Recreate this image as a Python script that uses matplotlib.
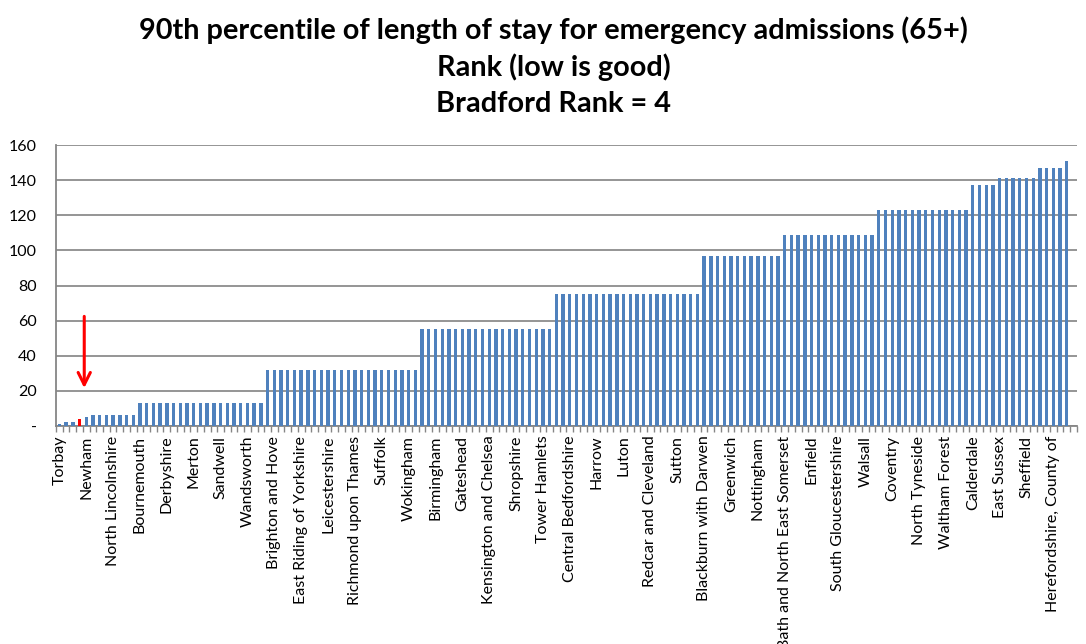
import numpy as np
import matplotlib
matplotlib.use("Agg")
import matplotlib.pyplot as plt
from matplotlib.ticker import FixedLocator

# Rank groups (competition ranking, ties share a rank) and how many authorities in each
group_rank = [1, 2, 4, 5, 6, 13, 32, 55, 75, 97, 109, 123, 137, 141, 147, 151]
group_size = [1, 2, 1, 1, 7, 19, 23, 20, 22, 12, 14, 14, 4, 6, 4, 1]

# Labels shown on the axis (every 4th authority, starting with the first)
shown_labels = ['Torbay', 'Newham', 'North Lincolnshire', 'Bournemouth', 'Derbyshire',
                'Merton', 'Sandwell', 'Wandsworth', 'Brighton and Hove',
                'East Riding of Yorkshire', 'Leicestershire', 'Richmond upon Thames',
                'Suffolk', 'Wokingham', 'Birmingham', 'Gateshead',
                'Kensington and Chelsea', 'Shropshire', 'Tower Hamlets',
                'Central Bedfordshire', 'Harrow', 'Luton', 'Redcar and Cleveland',
                'Sutton', 'Blackburn with Darwen', 'Greenwich', 'Nottingham',
                'Bath and North East Somerset', 'Enfield', 'South Gloucestershire',
                'Walsall', 'Coventry', 'North Tyneside', 'Waltham Forest', 'Calderdale',
                'East Sussex', 'Sheffield', 'Herefordshire, County of']
label_step = 4
n_categories = 152  # last category is empty
bradford_pos = 4

ranks = np.repeat(group_rank, group_size).astype(float)
ranks = np.append(ranks, np.full(n_categories - len(ranks), np.nan))
pos = np.arange(1, n_categories + 1)

colors = ['#4F81BD'] * n_categories
colors[bradford_pos - 1] = '#FF0000'

fig = plt.figure(figsize=(10.86, 6.44), dpi=100)
ax = fig.add_axes([0.0516, 0.3385, 0.940, 0.4363])

ax.bar(pos, np.nan_to_num(ranks), width=0.5, color=colors, zorder=3)

ax.set_xlim(0.5, n_categories + 0.5)
ax.set_ylim(0, 160)
ax.set_yticks(range(0, 161, 20))
ax.set_yticklabels(['-'] + [str(v) for v in range(20, 161, 20)], fontsize=11.5,
                   family='Lato')
ax.tick_params(axis='y', length=0, pad=14)

ax.xaxis.set_major_locator(FixedLocator(pos[::label_step][:len(shown_labels)]))
ax.set_xticklabels(shown_labels, rotation=90, fontsize=11.5, family='Lato')
ax.xaxis.set_minor_locator(FixedLocator(np.arange(0.5, n_categories + 1, 1)))
ax.tick_params(axis='x', which='major', length=0, pad=7)
ax.tick_params(axis='x', which='minor', length=4, color='#868686', width=1)

ax.grid(axis='y', color='#8C8C8C', linewidth=1.3, zorder=0)
for s in ['top', 'right']:
    ax.spines[s].set_visible(False)
for s in ['left', 'bottom']:
    ax.spines[s].set_color('#868686')
    ax.spines[s].set_linewidth(1.3)

# red arrow pointing at Bradford
ax.annotate('', xy=(bradford_pos + 0.7, 20), xytext=(bradford_pos + 0.7, 64),
            arrowprops=dict(arrowstyle='->', color='#FF0000', lw=2.2,
                            mutation_scale=22), zorder=5)

title_lines = ['90th percentile of length of stay for emergency admissions (65+)',
               'Rank (low is good)',
               'Bradford Rank = 4']
for i, t in enumerate(title_lines):
    fig.text(0.51, 0.953 - i * 0.057, t, ha='center', va='center', fontsize=20.8,
             fontweight='bold', family='Lato')

fig.savefig('out.png', dpi=100)
